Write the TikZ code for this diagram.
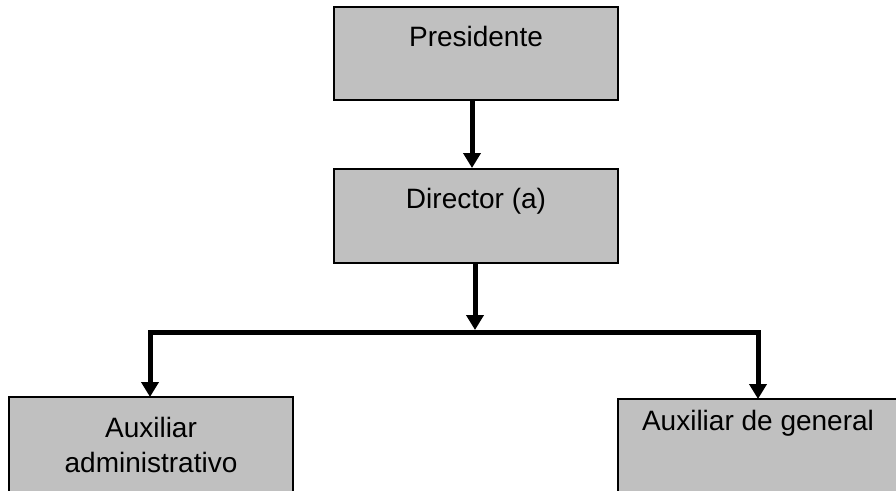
\documentclass[tikz,border=0pt]{standalone}
\usepackage{fontspec}
\setmainfont{Liberation Sans}
\usetikzlibrary{arrows.meta}
\definecolor{boxgray}{RGB}{192,192,192}
\begin{document}
\begin{tikzpicture}[x=1pt,y=-1pt,
  box/.style={draw=black,line width=2pt,fill=boxgray,inner sep=0pt},
  lbl/.style={inner sep=0pt,anchor=base,font=\fontsize{28}{35}\selectfont,align=center},
  arr/.style={line width=5pt,-{Triangle[width=17pt,length=15pt]}}]
\useasboundingbox (0,0) rectangle (896,490);
\begin{scope}
\clip (0,0) rectangle (896,490);
\node[box,minimum width=284pt,minimum height=93pt] (pres) at (476,53.5) {};
\node[box,minimum width=284pt,minimum height=94pt] (dir) at (476,216) {};
\node[box,minimum width=284pt,minimum height=143pt] (aux1) at (151,468.5) {};
\node[box,minimum width=302pt,minimum height=141pt] (aux2) at (769,469.5) {};
\end{scope}
\node[lbl] (tpres) at (476,46) {Presidente};
\node[lbl] (tdir) at (476,208) {Director (a)};
\node[lbl] (taux1) at (151,472) {Auxiliar\\administrativo};
\node[lbl] (taux2) at (758,430) {Auxiliar de general};
\coordinate (j) at (475,332);
\coordinate (a1) at (150,397);
\coordinate (a2) at (758,399);
\draw[arr] ([xshift=-4pt]pres.south) -- ([xshift=-4pt]dir.north);
\draw[arr,shorten >=2pt] ([xshift=-1pt]dir.south) -- (j);
\draw[arr] (j) -| (a1);
\draw[arr] (j) -| (a2);
\end{tikzpicture}
\end{document}
